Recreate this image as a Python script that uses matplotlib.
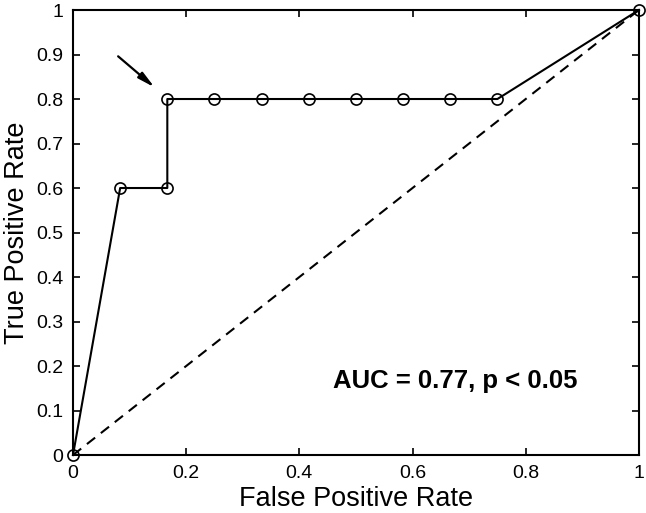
import matplotlib
matplotlib.use("Agg")
import matplotlib.pyplot as plt

fpr = [0, 1/12, 2/12, 2/12, 3/12, 4/12, 5/12, 6/12, 7/12, 8/12, 9/12, 1]
tpr = [0, 0.6, 0.6, 0.8, 0.8, 0.8, 0.8, 0.8, 0.8, 0.8, 0.8, 1]
xticks = [0, 0.2, 0.4, 0.6, 0.8, 1]
yticks = [0, 0.1, 0.2, 0.3, 0.4, 0.5, 0.6, 0.7, 0.8, 0.9, 1]
xtick_labels = ["0", "0.2", "0.4", "0.6", "0.8", "1"]
ytick_labels = ["0", "0.1", "0.2", "0.3", "0.4", "0.5", "0.6", "0.7", "0.8", "0.9", "1"]

plt.rcParams['font.family'] = ['Liberation Sans', 'DejaVu Sans']

fig = plt.figure(figsize=(6.46, 5.13), dpi=100)
ax = fig.add_axes([0.113, 0.113, 0.876, 0.8675])

ax.plot([0, 1], [0, 1], linestyle=(0, (5, 3.5)), color='black', lw=1.5)
ax.plot(fpr, tpr, color='black', lw=1.5, marker='o', markersize=8,
        markerfacecolor='none', markeredgecolor='black', markeredgewidth=1.2, clip_on=False)

ax.annotate('', xy=(0.148, 0.822), xytext=(0.076, 0.90),
            arrowprops=dict(arrowstyle='-|>,head_length=1.0,head_width=0.22', color='black', lw=1.6))

ax.text(0.46, 0.166, 'AUC = 0.77, p < 0.05', fontsize=18.5, fontweight='bold', va='center', ha='left')

ax.set_xlim(0, 1)
ax.set_ylim(0, 1)
ax.set_xticks(xticks)
ax.set_xticklabels(xtick_labels)
ax.set_yticks(yticks)
ax.set_yticklabels(ytick_labels)
ax.tick_params(direction='in', top=True, right=True, length=5, width=1.2, labelsize=14, pad=7)
for s in ax.spines.values():
    s.set_linewidth(1.5)
ax.set_xlabel('False Positive Rate', fontsize=19.5, labelpad=3)
ax.set_ylabel('True Positive Rate', fontsize=19.5, labelpad=4)

fig.savefig('out.png', dpi=100)
